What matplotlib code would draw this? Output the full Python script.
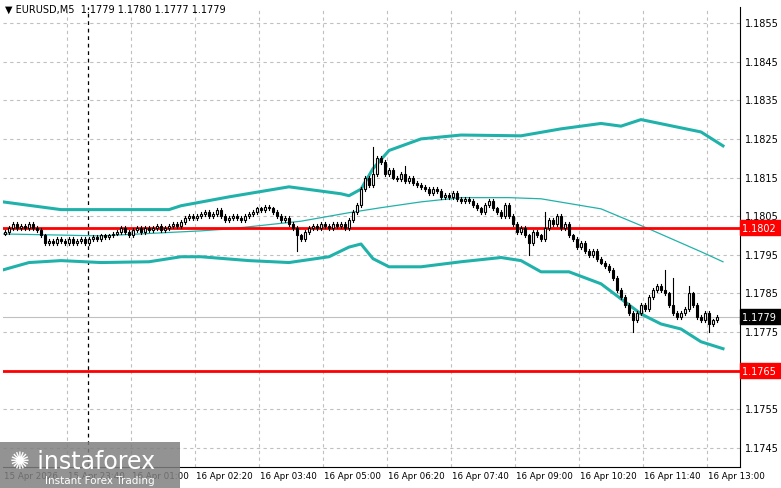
import matplotlib
matplotlib.use("Agg")
import matplotlib.pyplot as plt
from matplotlib.patches import Rectangle
import numpy as np

# closes in pips relative to 1.1800
closes_pips = [1,2,3,2,2.5,2,3,2,1.5,0,
 -2,-1.5,-2,-1,-1.5,-2,-1,-2,-1.5,-1,-2,-1,-0.5,-1,0,
 -0.5,0,0.5,1,2,1,0,1.5,2,1,
 2,1.5,2,2.5,1.5,2,2.5,3,2.5,3.5,
 4.5,5,4.5,5,5.5,6,5,5.5,6.5,5,4,4.5,
 5,4.5,4,5,5.5,6,7,6.5,7.5,7,6,
 5,4,4.5,3,2,0,-1,1,
 2,2.5,2,3,2.5,2,3,2.5,3,2,4,
 6,8,12,15,13,16,
 20,19,16,17,
 15,14.5,16,14,15,13.5,13,12.5,12,
 11,12,11.5,10,10.5,10,11,9.5,9,9.5,
 9,8,7,6,8,9,7,6,5,8,
 5,3,1,2,0,-2,1,0,
 -1,2,4,3,5,2,3,0,
 -1,-3,-2,-4,-5,-4,-6,-7,-8,-9,
 -11,-14,-16,-18,-20,-22,-20,-18,-19,
 -16,-14,-13,-14,-15,-18,-20,
 -21,-20,-19,-15,-18,-21,-22,-20,-23,-22,-21]
spikes_high = {92: 23, 100: 18, 135: 6, 165: -9, 167: -11, 171: -13}
spikes_low = {73: -4, 131: -5, 157: -25, 176: -25}

upper_x = [-0.5,14,24,41,44,56,71,84,86,89,92,96,104,114,129,139,149,154,159,174,179.5]
upper_p = [8.7,6.7,6.7,6.7,7.7,10,12.6,10.8,10.3,12,17.3,22,25,26,25.8,27.6,29,28.3,30,26.8,23.2]
lower_x = [-0.5,6,14,24,36,44,49,61,71,81,86,89,92,96,104,114,124,129,134,141,149,154,159,164,169,174,179.5]
lower_p = [-8.9,-7,-6.5,-7,-6.8,-5.5,-5.5,-6.5,-7,-5.5,-3,-2.2,-6,-8.1,-8.1,-6.8,-5.7,-6.5,-9.4,-9.4,-12.5,-16.4,-20.3,-22.9,-24.2,-27.5,-29.3]
mid_x = [-0.5,24,49,56,74,86,94,104,114,126,134,149,161,174,179.5]
mid_p = [0.4,-0.1,1.2,1.7,3.7,5.9,7.2,8.7,9.8,9.8,9.5,6.9,1.7,-4.2,-6.8]

price_ticks = [1.1745,1.1755,1.1765,1.1775,1.1785,1.1795,1.1805,1.1815,1.1825,1.1835,1.1845,1.1855]
time_labels = ["15 Apr 2026","15 Apr 23:40","16 Apr 01:00","16 Apr 02:20","16 Apr 03:40","16 Apr 05:00",
               "16 Apr 06:20","16 Apr 07:40","16 Apr 09:00","16 Apr 10:20","16 Apr 11:40","16 Apr 13:00"]

P = lambda v: 1.18 + np.asarray(v, dtype=float) / 10000.0
closes = P(closes_pips)
opens = np.concatenate([[P(0.5)], closes[:-1]])
wick = 0.00005
highs = np.maximum(opens, closes) + wick
lows = np.minimum(opens, closes) - wick
for k, v in spikes_high.items(): highs[k] = P(v)
for k, v in spikes_low.items(): lows[k] = P(v)

fig = plt.figure(figsize=(7.81, 4.89), dpi=100)
ax = fig.add_axes([3/781, (489-468)/489, 737/781, 460/489])
ymin, ymax = 1.1855 - 444/38636, 1.1855 + 16/38636
ax.set_xlim(-0.5, 183.75)
ax.set_ylim(ymin, ymax)

for t in price_ticks:
    ax.axhline(t, color="#c0c0c0", ls=(0, (3, 3)), lw=0.8, zorder=0)
tick_x = [(-0.5 + 16*j) for j in range(len(time_labels))]
for j, tx in enumerate(tick_x):
    if j > 0:
        ax.axvline(tx, color="#c0c0c0", ls=(0, (3, 3)), lw=0.8, zorder=0)
ax.axvline(20.75, color="black", ls=(0, (3, 3)), lw=0.9, zorder=1)

ax.plot(upper_x, P(upper_p), color="#20b2aa", lw=2.2, zorder=2)
ax.plot(lower_x, P(lower_p), color="#20b2aa", lw=2.2, zorder=2)
ax.plot(mid_x, P(mid_p), color="#20b2aa", lw=0.9, zorder=2)

ax.axhline(1.1802, color="#ff0000", lw=2, zorder=3)
ax.axhline(1.1765, color="#ff0000", lw=2, zorder=3)
ax.axhline(1.1779, color="#c0c0c0", lw=0.8, zorder=1)

for i in range(len(closes)):
    o, c, h, l = opens[i], closes[i], highs[i], lows[i]
    ax.plot([i, i], [l, h], color="black", lw=0.8, zorder=4)
    bull = c >= o
    bot = min(o, c); hgt = max(abs(c - o), 0.000012)
    ax.add_patch(Rectangle((i - 0.35, bot), 0.7, hgt, facecolor="white" if bull else "black",
                           edgecolor="black", lw=0.8, zorder=5))

ax.set_xticks([]); ax.set_yticks([])
for s in ["top", "left"]:
    ax.spines[s].set_visible(False)
ax.spines["right"].set_color("black"); ax.spines["bottom"].set_color("black")

fs = 7
boxes = [(1.1802, "#ff0000"), (1.1765, "#ff0000"), (1.1779, "black")]
for t in price_ticks:
    if any(abs(t - b) < 0.00025 for b, _ in boxes):
        continue
    ax.text(183.75 + 1.3, t, f"{t:.4f}", fontsize=fs, va="center", ha="left")
for lvl, col in boxes:
    ax.text(183.75 + 0.6, lvl, f"{lvl:.4f} ", fontsize=fs, va="center", ha="left", color="white",
            bbox=dict(boxstyle="square,pad=0.25", fc=col, ec=col), zorder=10, clip_on=False)
for tx, lab in zip(tick_x, time_labels):
    ax.text(tx + 0.3, ymin - 0.0001, lab, fontsize=6.3, va="top", ha="left", clip_on=False)

fig.text(5/781, 1 - 10/489, "▼ EURUSD,M5  1.1779 1.1780 1.1777 1.1779", fontsize=7, va="center", ha="left")

fig.patches.append(Rectangle((0, 0), 180/781, 46/489, transform=fig.transFigure,
                             facecolor="#808080", alpha=0.85, zorder=20))
fig.text(10/781, 27/489, "✺ instaforex", fontsize=17, color="white", va="center", ha="left", zorder=21)
fig.text(45/781, 8/489, "Instant Forex Trading", fontsize=7.5, color="white", va="center", ha="left", zorder=21)

fig.savefig("out.png", dpi=100)
